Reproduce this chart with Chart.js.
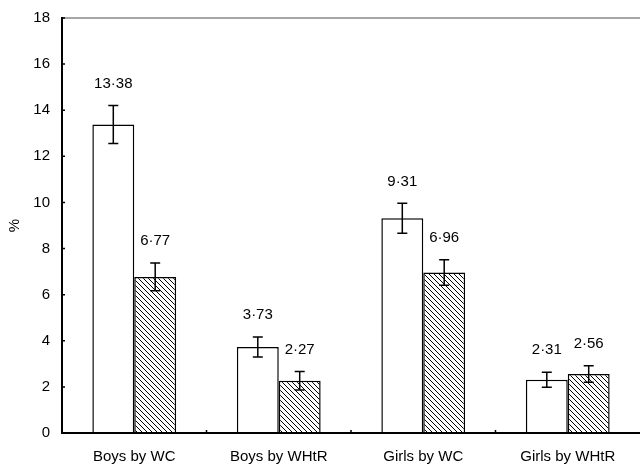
<!DOCTYPE html>
<html lang="en">
<head>
    <meta charset="UTF-8">
    <title>Prevalence by WC and WHtR</title>
    <script src="https://cdn.jsdelivr.net/npm/chart.js"></script>
    <style>
        body {
            margin: 0;
            background: #fff;
        }
        #wrap {
            width: 640px;
            height: 467px;
        }
    </style>
</head>
<body>
    <div id="wrap">
        <canvas id="prevChart" width="640" height="467"></canvas>
    </div>

    <script>
        // Data
        const groups = ['Boys by WC', 'Boys by WHtR', 'Girls by WC', 'Girls by WHtR'];
        const openValues = [13.38, 3.73, 9.31, 2.31];
        const openErrors = [0.82, 0.43, 0.65, 0.33];
        const hatchValues = [6.77, 2.27, 6.96, 2.56];
        const hatchErrors = [0.60, 0.40, 0.55, 0.36];
        const yTicks = [0, 2, 4, 6, 8, 10, 12, 14, 16, 18];

        const fontFamily = '"Liberation Sans", Arial, sans-serif';

        // Diagonal hatch pattern (top-left to bottom-right)
        function makeHatch() {
            const c = document.createElement('canvas');
            c.width = 5;
            c.height = 5;
            const g = c.getContext('2d');
            g.fillStyle = '#fff';
            g.fillRect(0, 0, 5, 5);
            g.strokeStyle = '#000';
            g.lineWidth = 1;
            g.beginPath();
            g.moveTo(-1, -1); g.lineTo(6, 6);
            g.moveTo(-1, 4); g.lineTo(1, 6);
            g.moveTo(4, -1); g.lineTo(6, 1);
            g.stroke();
            return g.createPattern(c, 'repeat');
        }

        // Short tick marks pointing into the plot, like the original figure
        const innerTicksPlugin = {
            id: 'innerTicks',
            afterDraw(chart) {
                const ctx = chart.ctx;
                const area = chart.chartArea;
                const y = chart.scales.y;
                const x = chart.scales.x;
                ctx.save();
                ctx.strokeStyle = '#000';
                ctx.lineWidth = 1.5;
                ctx.beginPath();
                yTicks.forEach(v => {
                    const py = y.getPixelForValue(v);
                    ctx.moveTo(area.left, py);
                    ctx.lineTo(area.left + 3, py);
                });
                for (let i = 1; i < groups.length; i++) {
                    const px = (x.getPixelForValue(i - 1) + x.getPixelForValue(i)) / 2;
                    ctx.moveTo(px, area.bottom);
                    ctx.lineTo(px, area.bottom - 3);
                }
                ctx.stroke();
                ctx.restore();
            }
        };

        // Error bars and value labels
        const errorBarPlugin = {
            id: 'errorBars',
            afterDatasetsDraw(chart) {
                const ctx = chart.ctx;
                const yScale = chart.scales.y;
                ctx.save();
                chart.data.datasets.forEach((ds, di) => {
                    const meta = chart.getDatasetMeta(di);
                    meta.data.forEach((bar, i) => {
                        const v = ds.data[i];
                        const e = ds.errors[i];
                        const x = bar.x;
                        const yTop = yScale.getPixelForValue(v + e);
                        const yBot = yScale.getPixelForValue(v - e);
                        ctx.strokeStyle = '#000';
                        ctx.lineWidth = 1.5;
                        ctx.beginPath();
                        ctx.moveTo(x, yTop); ctx.lineTo(x, yBot);
                        ctx.moveTo(x - 5, yTop); ctx.lineTo(x + 5, yTop);
                        ctx.moveTo(x - 5, yBot); ctx.lineTo(x + 5, yBot);
                        ctx.stroke();

                        ctx.fillStyle = '#000';
                        ctx.font = '15px ' + fontFamily;
                        ctx.textAlign = 'center';
                        ctx.textBaseline = 'middle';
                        ctx.fillText(v.toFixed(2).replace('.', '\u00b7'), x, yTop - 22);
                    });
                });
                ctx.restore();
            }
        };

        const ctx = document.getElementById('prevChart').getContext('2d');
        new Chart(ctx, {
            type: 'bar',
            data: {
                labels: groups,
                datasets: [
                    {
                        data: openValues,
                        errors: openErrors,
                        backgroundColor: '#fff',
                        borderColor: '#000',
                        borderWidth: 1.5
                    },
                    {
                        data: hatchValues,
                        errors: hatchErrors,
                        backgroundColor: makeHatch(),
                        borderColor: '#000',
                        borderWidth: 1.5
                    }
                ]
            },
            options: {
                responsive: false,
                animation: false,
                layout: { padding: { top: 18, right: 0, left: 0, bottom: 0 } },
                datasets: {
                    bar: { barPercentage: 1, categoryPercentage: 0.58 }
                },
                plugins: {
                    legend: { display: false },
                    tooltip: { enabled: false }
                },
                scales: {
                    x: {
                        grid: { display: false },
                        border: { color: '#000', width: 2 },
                        ticks: {
                            color: '#000',
                            font: { family: fontFamily, size: 15 },
                            padding: 7
                        },
                        afterFit(scale) { scale.height = 34; }
                    },
                    y: {
                        min: 0,
                        max: 18,
                        afterBuildTicks(scale) {
                            scale.ticks = yTicks.map(v => ({ value: v }));
                        },
                        grid: {
                            color: c => (c.tick && c.tick.value === 18 ? '#a6a6a6' : 'rgba(0,0,0,0)'),
                            drawTicks: false,
                            lineWidth: 2
                        },
                        border: { color: '#000', width: 2 },
                        ticks: {
                            color: '#000',
                            font: { family: fontFamily, size: 15 },
                            padding: 12
                        },
                        title: {
                            display: true,
                            text: '%',
                            color: '#000',
                            font: { family: fontFamily, size: 15 },
                            padding: { top: 6, bottom: 0 }
                        },
                        afterFit(scale) {
                            scale.width = 62;
                            scale.paddingTop = 0;
                            scale.paddingBottom = 0;
                        }
                    }
                }
            },
            plugins: [errorBarPlugin, innerTicksPlugin]
        });
    </script>
</body>
</html>
